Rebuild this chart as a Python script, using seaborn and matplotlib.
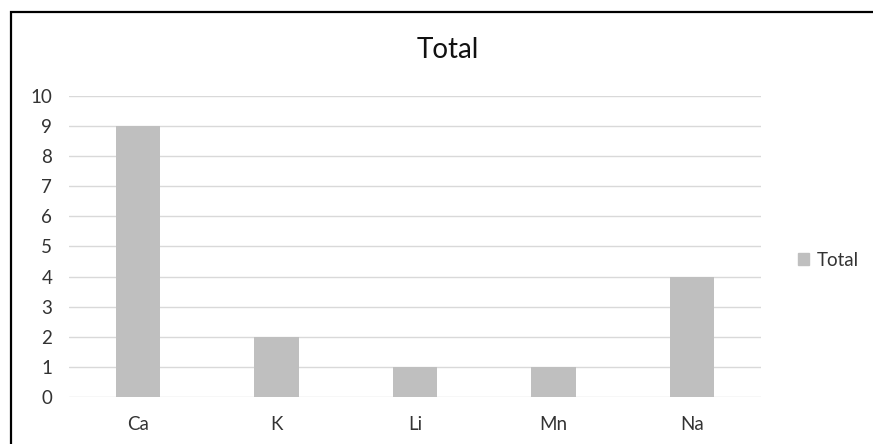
import matplotlib
matplotlib.use("Agg")
import matplotlib.pyplot as plt
import matplotlib.patches as mpatches
import seaborn as sns
import pandas as pd

categories = ["Ca", "K", "Li", "Mn", "Na"]
values = [9, 2, 1, 1, 4]
series_name = "Total"
yticks = list(range(0, 11))

sns.set_style("white")
plt.rcParams['font.family'] = ['Lato', 'DejaVu Sans']

df = pd.DataFrame({"element": categories, "count": values})

fig = plt.figure(figsize=(8.73, 4.44), dpi=100)
ax = fig.add_axes([69/873, 1-397/444, (761-69)/873, (397-96)/444])

bar_color = "#BFBFBF"
sns.barplot(data=df, x="element", y="count", color=bar_color, width=0.32, ax=ax,
            saturation=1, linewidth=0, zorder=3)

ax.set_ylim(0, 10)
ax.set_yticks(yticks)
ax.set_xlim(-0.5, len(categories) - 0.5)
ax.yaxis.grid(True, color="#D9D9D9", linewidth=1.0, zorder=0)
ax.set_axisbelow(True)
for s in ax.spines.values():
    s.set_visible(False)
ax.tick_params(axis="both", length=0, labelsize=13.5, colors="#333333")
ax.tick_params(axis="y", pad=12)
ax.tick_params(axis="x", pad=14)
ax.set_xlabel("")
ax.set_ylabel("")

fig.text(448/873, 1-50/444, "Total", ha="center", va="center", fontsize=20, color="#111111")

handle = mpatches.Patch(color=bar_color, label=series_name)
fig.legend(handles=[handle], loc="center left", bbox_to_anchor=(781/873, 1-260/444),
           frameon=False, fontsize=13.5, handlelength=0.6, handleheight=0.6,
           handletextpad=0.4, labelcolor="#333333")

border = mpatches.Rectangle((11/873, -0.2), 1.2, 1 - 12/444 + 0.2, transform=fig.transFigure,
                            fill=False, edgecolor="black", linewidth=1.6, clip_on=False)
fig.patches.append(border)

fig.savefig("out.png", dpi=100, facecolor="white")
